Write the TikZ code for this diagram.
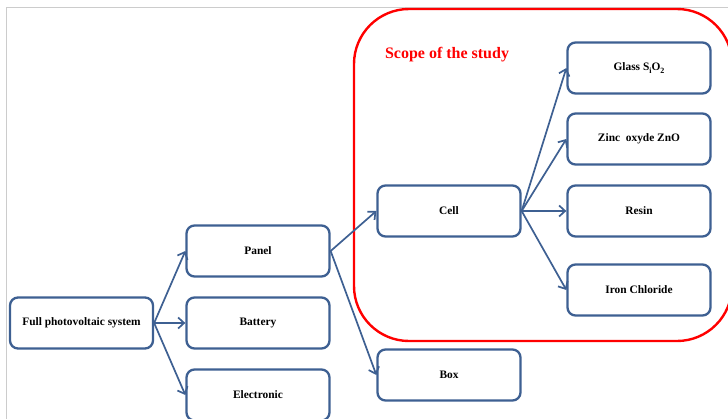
\documentclass[tikz,border=0pt]{standalone}
\usepackage{fontspec}
\setmainfont{Liberation Serif}
\usetikzlibrary{arrows.meta}
\definecolor{boxblue}{RGB}{62,96,146}
\newcommand{\lowsub}[1]{\raisebox{-0.45ex}{\fontsize{8}{9}\selectfont #1}}
\tikzset{
  item/.style={draw=boxblue, line width=2.3pt, rounded corners=8pt, fill=white,
    minimum width=143pt, minimum height=51pt, inner sep=0pt,
    font=\fontsize{11.4}{13}\selectfont\bfseries},
  link/.style={draw=boxblue, line width=1.7pt, -{Straight Barb[length=6pt,width=11pt,line width=1.7pt]}}
}
\begin{document}
\begin{tikzpicture}[x=1pt,y=-1pt]
\clip (0,0) rectangle (728,418);
\fill[white] (0,0) rectangle (728,418);
\draw[black!20, line width=0.8pt] (6,420) -- (6,7) -- (730,7);
\draw[red, line width=2.4pt, rounded corners=55pt] (354,9) rectangle (732,341);
\node[text=red, font=\fontsize{16}{18}\selectfont\bfseries] (scope) at (447,55) {Scope of the study};
\node[item] (full) at (81.5,323) {Full photovoltaic system};
\node[item] (panel) at (258,251) {Panel};
\node[item] (battery) at (258,323) {Battery};
\node[item] (elec) at (258,395) {Electronic};
\node[item] (cell) at (449,211) {Cell};
\node[item] (box) at (449,375) {Box};
\node[item] (glass) at (639,68) {Glass S\lowsub{i}O\lowsub{2}};
\node[item] (zinc) at (639,139) {Zinc\ \ oxyde ZnO};
\node[item] (resin) at (639,211) {Resin};
\node[item] (iron) at (639,290) {Iron Chloride};
\draw[link] (full.east) -- (panel.west);
\draw[link] (full.east) -- (battery.west);
\draw[link] (full.east) -- (elec.west);
\draw[link] (panel.east) -- (cell.west);
\draw[link] (panel.east) -- (box.west);
\draw[link] (cell.east) -- (glass.west);
\draw[link] (cell.east) -- (zinc.west);
\draw[link] (cell.east) -- (resin.west);
\draw[link] (cell.east) -- (iron.west);
\end{tikzpicture}
\end{document}
